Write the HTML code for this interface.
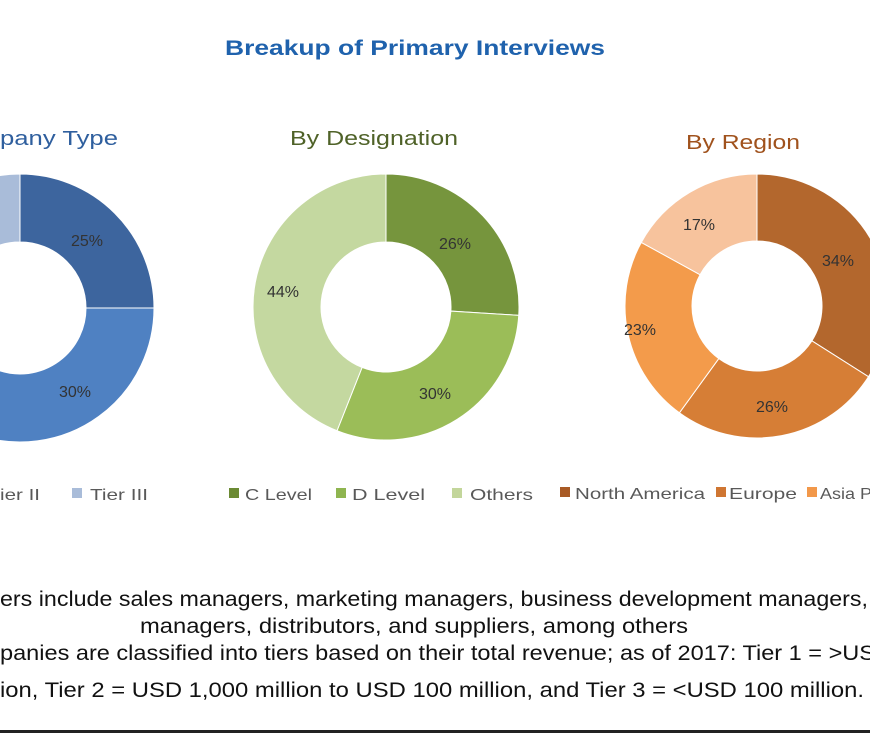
<!DOCTYPE html>
<html><head><meta charset="utf-8"><style>
html,body{margin:0;padding:0;background:#fff;}
svg{display:block;}
text{font-family:"Liberation Sans",sans-serif;}
</style></head><body>
<svg id="s" width="870" height="733" viewBox="0 0 870 733" xmlns="http://www.w3.org/2000/svg">
<rect width="870" height="733" fill="#fff"/>
<g id="donuts"></g>
<text x="225" y="55" font-size="21" font-weight="bold" fill="#1f62ad" textLength="380" lengthAdjust="spacingAndGlyphs">Breakup of Primary Interviews</text>
<text x="0" y="145" font-size="20" fill="#2f5f9e" textLength="118" lengthAdjust="spacingAndGlyphs">pany Type</text>
<text x="290" y="145" font-size="20" fill="#4f6228" textLength="168" lengthAdjust="spacingAndGlyphs">By Designation</text>
<text x="686" y="149" font-size="20" fill="#a0521d" textLength="114" lengthAdjust="spacingAndGlyphs">By Region</text>
<g font-size="16" fill="#333">
<text x="71" y="246">25%</text><text x="59" y="397">30%</text>
<text x="439" y="249">26%</text><text x="419" y="399">30%</text><text x="267" y="297">44%</text>
<text x="683" y="230">17%</text><text x="822" y="266">34%</text><text x="624" y="335">23%</text><text x="756" y="412">26%</text>
</g>
<g font-size="16" fill="#595959">
<text x="0" y="500" textLength="40" lengthAdjust="spacingAndGlyphs">ier II</text>
<rect x="72" y="488" width="10" height="10" fill="#a9bcd9"/><text x="90" y="500" textLength="58" lengthAdjust="spacingAndGlyphs">Tier III</text>
<rect x="229" y="488" width="10" height="10" fill="#6b8a33"/><text x="245" y="500" textLength="67" lengthAdjust="spacingAndGlyphs">C Level</text>
<rect x="336" y="488" width="10" height="10" fill="#8fb550"/><text x="352" y="500" textLength="73" lengthAdjust="spacingAndGlyphs">D Level</text>
<rect x="452" y="488" width="10" height="10" fill="#c3d69b"/><text x="470" y="500" textLength="63" lengthAdjust="spacingAndGlyphs">Others</text>
<rect x="560" y="487" width="10" height="10" fill="#a85a25"/><text x="575" y="499" textLength="130" lengthAdjust="spacingAndGlyphs">North America</text>
<rect x="716" y="487" width="10" height="10" fill="#cf7632"/><text x="729" y="499" textLength="68" lengthAdjust="spacingAndGlyphs">Europe</text>
<rect x="807" y="487" width="10" height="10" fill="#f2984a"/><text x="820" y="499" textLength="52" lengthAdjust="spacingAndGlyphs">Asia P</text>
</g>
<g font-size="21" fill="#111">
<text x="0" y="606" textLength="868" lengthAdjust="spacingAndGlyphs">ers include sales managers, marketing managers, business development managers,</text>
<text x="140" y="633" textLength="548" lengthAdjust="spacingAndGlyphs">managers, distributors, and suppliers, among others</text>
<text x="0" y="660" textLength="875" lengthAdjust="spacingAndGlyphs">panies are classified into tiers based on their total revenue; as of 2017: Tier 1 = &gt;US</text>
<text x="0" y="697" textLength="864" lengthAdjust="spacingAndGlyphs">ion, Tier 2 = USD 1,000 million to USD 100 million, and Tier 3 = &lt;USD 100 million.</text>
</g>
<rect x="0" y="730" width="870" height="3" fill="#222"/>
</svg>
<script>
function arc(cx,cy,R,r,a0,a1,col){
 var t=function(a,rad){var x=(a-90)*Math.PI/180;return [cx+rad*Math.cos(x),cy+rad*Math.sin(x)];};
 var p0=t(a0,R),p1=t(a1,R),q1=t(a1,r),q0=t(a0,r),l=(a1-a0)>180?1:0;
 return '<path d="M'+p0+' A'+R+','+R+' 0 '+l+' 1 '+p1+' L'+q1+' A'+r+','+r+' 0 '+l+' 0 '+q0+' Z" fill="'+col+'" stroke="#fff" stroke-width="1"/>';
}
function donut(cx,cy,R,r,segs){var a=0,h='';segs.forEach(function(s){var b=a+s[0]*3.6;h+=arc(cx,cy,R,r,a,b,s[1]);a=b;});return h;}
var h='';
h+=donut(20,308,134,66,[[25,'#3d659e'],[30,'#4f81c2'],[35,'#2f4f80'],[10,'#a9bcd9']]);
h+=donut(386,307,133,65,[[26,'#76953d'],[30,'#9bbd58'],[44,'#c4d8a0']]);
h+=donut(757,306,132,65,[[34,'#b3672d'],[26,'#d67e36'],[23,'#f39b4b'],[17,'#f7c39d']]);
document.getElementById('donuts').innerHTML=h;
</script>
</body></html>
